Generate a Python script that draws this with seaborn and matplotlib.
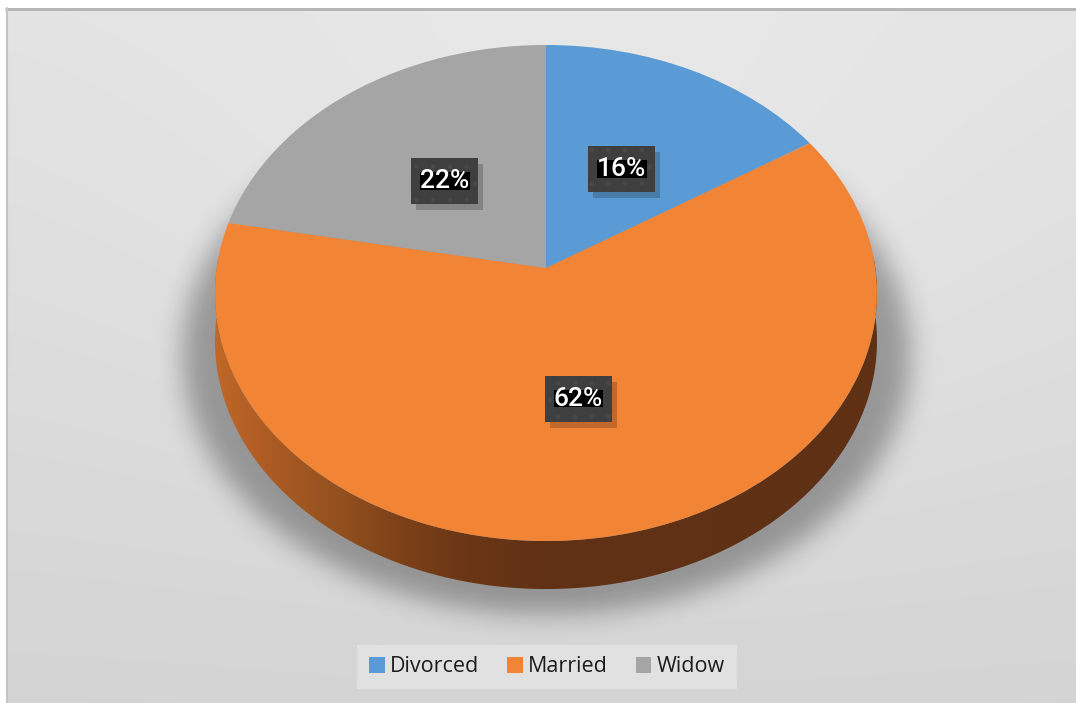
import numpy as np
import matplotlib
matplotlib.use("Agg")
import matplotlib.pyplot as plt
import seaborn as sns
from matplotlib.path import Path
from matplotlib.patches import PathPatch, Rectangle
from matplotlib.transforms import Transform, IdentityTransform, offset_copy
from matplotlib.colors import LinearSegmentedColormap

# ---- data -------------------------------------------------------------
categories = ["Divorced", "Married", "Widow"]
shares = [16, 62, 22]
slice_colors = ["#5b9bd5", "#f18435", "#a5a5a5"]

sns.set_theme(style="white")
plt.rcParams["font.family"] = ["Open Sans", "DejaVu Sans"]

W, H = 1076, 703
fig = plt.figure(figsize=(W / 100, H / 100), dpi=100)
fig.patch.set_facecolor("white")
ax = fig.add_axes([0, 0, 1, 1])

# ---- perspective view of a flat disc (unit circle -> pixel space) -----
APEX_X, APEX_Y = 546.0, 268.0
SX, SY, PERSP = 329.3, 245.5, -0.1008
DEPTH = 48.0


def tilt_xy(u, v_up):
    v = -np.asarray(v_up, float)
    d = 1.0 + PERSP * v
    return APEX_X + SX * np.asarray(u, float) / d, APEX_Y + SY * v / d


class Tilt(Transform):
    input_dims = 2
    output_dims = 2
    is_separable = False
    has_inverse = False

    def transform_non_affine(self, values):
        values = np.asarray(values, float)
        x, y = tilt_xy(values[..., 0], values[..., 1])
        return np.stack([x, y], axis=-1)


tilt = Tilt()


def padded_box(pad_x, pad_y):
    """Rectangular bbox style with separate horizontal / vertical padding."""
    def box(x0, y0, width, height, mutation_size):
        dx, dy = pad_x * mutation_size, pad_y * mutation_size
        return Path([(x0 - dx, y0 - dy), (x0 + width + dx, y0 - dy),
                     (x0 + width + dx, y0 + height + dy),
                     (x0 - dx, y0 + height + dy), (x0 - dx, y0 - dy)],
                    closed=True)
    return box


# ---- background panel ---------------------------------------------------
yy, xx = np.mgrid[0:H, 0:W].astype(float)
bg = (0.89 - 0.06 * (yy / H)
      + 0.03 * np.exp(-((xx - 600) / 450) ** 2 - ((yy - 220) / 320) ** 2))
bg_rgb = np.dstack([bg, bg, bg])
ax.imshow(bg_rgb, extent=(6, W, H, 8), aspect="auto", zorder=0,
          interpolation="bilinear")
ax.plot([6, W], [8.5, 8.5], color="#b3b3b3", lw=2, zorder=1)
ax.plot([6.5, 6.5], [8, H], color="#c4c4c4", lw=1.5, zorder=1)


# ---- soft shadow under the disc ----------------------------------------
def blur(a, s):
    k = np.exp(-0.5 * (np.arange(-3 * s, 3 * s + 1) / s) ** 2)
    k /= k.sum()
    a = np.apply_along_axis(lambda r: np.convolve(r, k, "same"), 1, a)
    a = np.apply_along_axis(lambda r: np.convolve(r, k, "same"), 0, a)
    return a


ell = ((((xx - 546) / 364) ** 2 + ((yy - 354) / 260) ** 2) <= 1).astype(float)
sh = blur(ell, 13)
shadow = np.zeros((H, W, 4))
shadow[..., 3] = 0.32 * sh
ax.imshow(shadow, extent=(0, W, H, 0), aspect="auto", zorder=1)

# ---- rim of the disc (front edge) -------------------------------------
t = np.linspace(np.pi * 0.985, np.pi * 2.015, 300)
tx, ty = tilt_xy(np.cos(t), np.sin(t))
rim_verts = np.concatenate([np.column_stack([tx, ty]),
                            np.column_stack([tx[::-1], ty[::-1] + DEPTH])])
rim_verts = np.vstack([rim_verts, rim_verts[:1]])
rim_codes = [Path.MOVETO] + [Path.LINETO] * (len(rim_verts) - 2) + [Path.CLOSEPOLY]
rim_patch = PathPatch(Path(rim_verts, rim_codes), transform=ax.transData,
                      facecolor="none", edgecolor="none")
ax.add_patch(rim_patch)

rim_cmap = LinearSegmentedColormap.from_list(
    "rim", [(0.0, "#c06829"), (0.07, "#b05d24"), (0.18, "#95511f"),
            (0.28, "#7d4119"), (0.38, "#6a3616"), (0.5, "#613115"),
            (1.0, "#5f3114")])
grad = np.linspace(0, 1, 500)[None, :]
rim_img = ax.imshow(grad, cmap=rim_cmap, extent=(tx.min() - 3, tx.max() + 3,
                                                  ty.max() + DEPTH + 5, ty.min() - 5),
                    aspect="auto", zorder=2, interpolation="bilinear")
rim_img.set_clip_path(rim_patch)

# ---- top face: the pie ------------------------------------------------
label_font = dict(fontsize=19, fontweight="medium", color="white",
                  family=["Roboto", "DejaVu Sans"])
wedges, texts, autotexts = ax.pie(
    shares, colors=slice_colors, startangle=90, counterclock=False,
    radius=1, center=(0, 0), autopct="%1.0f%%", pctdistance=0.5,
    wedgeprops=dict(linewidth=0), textprops=label_font)

for w in wedges:
    w.set_transform(tilt + ax.transData)
    w.set_zorder(3)

for at in autotexts:
    at.set_transform(offset_copy(tilt + ax.transData, fig, x=0, y=-4, units="dots"))
    at.set_zorder(7)
    at.set_bbox(dict(boxstyle=padded_box(0.0, -0.13), fc="black", ec="none"))

# ---- legend -------------------------------------------------------------
leg = ax.legend(wedges, categories, loc="center", bbox_to_anchor=(547, 667),
                bbox_transform=ax.transData, ncol=3, frameon=True,
                fancybox=False, facecolor="#e1e1e1", edgecolor="none",
                framealpha=1, fontsize=15.5, handlelength=0.72, handleheight=0.72,
                handletextpad=0.25, columnspacing=1.3, borderpad=0.55)
for txt in leg.get_texts():
    txt.set_color("#1c1c1c")
leg.set_zorder(8)

ax.set_xlim(0, W)
ax.set_ylim(H, 0)
ax.set_aspect("auto")
ax.axis("off")

# dark callout cards (with drop shadow) behind each value label, in pixels
CARD_W, CARD_H = 67, 46
for at in autotexts:
    px, py = at.get_transform().transform(at.get_position())
    ax.add_patch(Rectangle((px - CARD_W / 2 + 5, py - CARD_H / 2 - 6), CARD_W, CARD_H,
                           transform=IdentityTransform(), fc=(0, 0, 0, 0.2),
                           ec="none", zorder=5))
    ax.add_patch(Rectangle((px - CARD_W / 2, py - CARD_H / 2), CARD_W, CARD_H,
                           transform=IdentityTransform(), fc="#3f3f3f",
                           ec="#484848", lw=0, hatch=".", zorder=6))

fig.savefig("out.png", dpi=100, facecolor=fig.get_facecolor())
